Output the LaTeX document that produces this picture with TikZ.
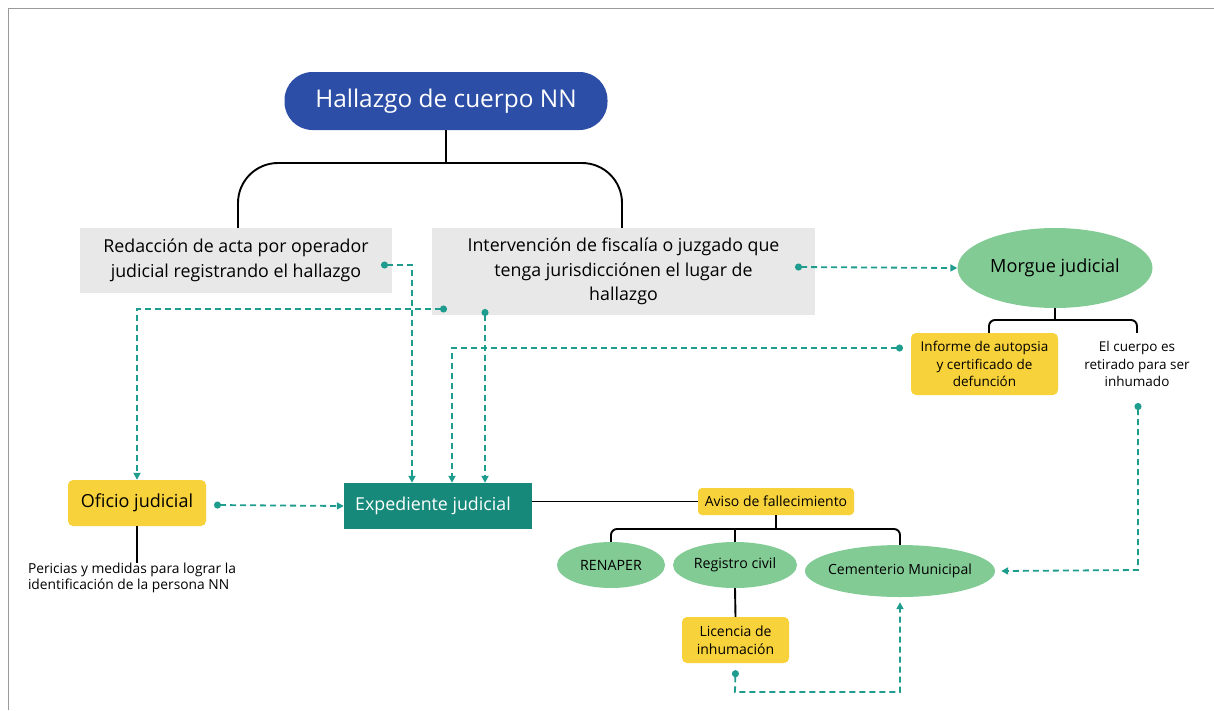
\documentclass[tikz,border=0pt]{standalone}
\usepackage{fontspec}
\setmainfont{Open Sans}
\usetikzlibrary{arrows.meta,shapes.geometric,calc}
\definecolor{hblue}{HTML}{2D4EA6}
\definecolor{hgray}{HTML}{E8E8E8}
\definecolor{hgreen}{HTML}{82CB95}
\definecolor{hyellow}{HTML}{F8D23A}
\definecolor{hteal}{HTML}{16897A}
\definecolor{linkc}{HTML}{1E9C8E}
\definecolor{framec}{HTML}{9A9A9A}
\newcommand{\fs}[2]{\fontsize{#1}{#2}\selectfont}
\begin{document}
\begin{tikzpicture}[x=1pt,y=-1pt,
  tree/.style={draw=black,line width=1.9pt},
  graybox/.style={fill=hgray,draw=none,align=center,inner sep=2pt},
  yellowbox/.style={fill=hyellow,draw=none,rounded corners=5pt,align=center,inner sep=2pt},
  greenell/.style={ellipse,fill=hgreen,draw=none,align=center,inner sep=0pt},
  dashlink/.style={draw=linkc,line width=1.8pt,dash pattern=on 6pt off 4pt,
    {Circle[length=7pt,width=7pt]}-{Triangle[length=7pt,width=7pt]}}
]
\useasboundingbox (0,0) rectangle (1214,710);
\draw[framec,line width=1pt] (8,710) -- (8,8) -- (1214,8);

% nodes
\node[fill=hblue,rounded corners=28pt,minimum width=323pt,minimum height=58pt,text=white,font=\fs{24.4}{29}] (top) at (446,101) {Hallazgo de cuerpo NN};
\node[graybox,minimum width=312pt,minimum height=65pt,font=\fs{17.8}{24.5}] (redac) at (236,260.5) {Redacción de acta por operador\\judicial registrando el hallazgo};
\node[graybox,minimum width=383pt,minimum height=87pt,font=\fs{17.8}{24.5}] (interv) at (623.5,271.5) {Intervención de fiscalía o juzgado que\\tenga jurisdicciónen el lugar de\\hallazgo};
\node[greenell,minimum width=195pt,minimum height=80pt,font=\fs{18.1}{22}] (morgue) at (1055,268) {Morgue judicial};
\node[yellowbox,minimum width=147pt,minimum height=62pt,font=\fs{13.5}{17.5}] (informe) at (984.5,364) {Informe de autopsia\\y certificado de\\defunción};
\node[align=center,minimum height=62pt,inner sep=0pt,font=\fs{13.5}{17.5}] (cuerpo) at (1137,364) {El cuerpo es\\retirado para ser\\inhumado};
\node[yellowbox,minimum width=138pt,minimum height=46pt,font=\fs{18}{22}] (oficio) at (137,503) {Oficio judicial};
\node[fill=hteal,minimum width=188pt,minimum height=46pt,text=white,font=\fs{17.8}{22}] (exped) at (438,506) {Expediente judicial\hspace*{10pt}};
\node[align=left,inner sep=0pt,font=\fs{13.8}{16.5}] (pericias) at (132,578) {Pericias y medidas para lograr la\\identificación de la persona NN};
\node[yellowbox,rounded corners=4pt,minimum width=156pt,minimum height=27pt,font=\fs{14}{17}] (aviso) at (776,501.5) {Aviso de fallecimiento};
\node[greenell,minimum width=108pt,minimum height=46pt,font=\fs{14.2}{17}] (renaper) at (611,565) {RENAPER};
\node[greenell,minimum width=124pt,minimum height=46pt,font=\fs{14.2}{17}] (registro) at (735,565) {Registro civil};
\node[greenell,inner xsep=-25pt,minimum width=190pt,minimum height=52pt,font=\fs{14}{17}] (cementerio) at (900,571) {Cementerio Municipal};
\node[yellowbox,minimum width=107pt,minimum height=46pt,font=\fs{14}{18}] (licencia) at (735.5,640) {Licencia de\\inhumación};

% tree connectors
\draw[tree] (top.south) -- (446,163);
\draw[tree,rounded corners=40pt] (238,0 |- redac.north) -- (238,163) -- (622,163) -- (622,0 |- interv.north);
\draw[tree] (morgue.south) -- (1055,320);
\draw[tree,rounded corners=6pt] (989,0 |- informe.north) -- (989,320) -- (1137,320) -- (cuerpo.north);
\draw[tree] (oficio.south) -- (pericias.north -| oficio.south);
\draw[tree] (exped.east |- aviso.west) -- (aviso.west);
\draw[tree] (aviso.south) -- (776,529);
\draw[tree,rounded corners=6pt] (renaper.north) -- (611,529) -- (900,529) -- (cementerio.north);
\draw[tree] (registro.north) -- (735,529);
\draw[tree] (registro.south) -- (licencia.north);

% dashed connectors
\coordinate (r1) at (381,265);
\coordinate (i1) at (447,309);
\coordinate (i2) at (485,309);
\coordinate (i3) at (795,267);
\coordinate (f1) at (903,348);
\coordinate (o1) at (214,505);
\coordinate (c1) at (1138,403);
\draw[dashlink] (r1) -- (412,265) -- (412,0 |- exped.north);
\draw[dashlink] (i1) -- (137,309) -- (oficio.north);
\draw[dashlink] (i2) -- (485,0 |- exped.north);
\draw[dashlink] (f1) -- (452,348) -- (452,0 |- exped.north);
\draw[dashlink] (i3) -- (morgue.west);
\draw[dashlink] (o1) -- (exped.west);
\draw[dashlink] ([yshift=-7pt]licencia.south) -- (735,692) -- (900,692) -- ([yshift=-5pt]cementerio.south);
\draw[dashlink] (c1) -- (1138,570) -- ([xshift=6pt]cementerio.east);
\end{tikzpicture}
\end{document}
